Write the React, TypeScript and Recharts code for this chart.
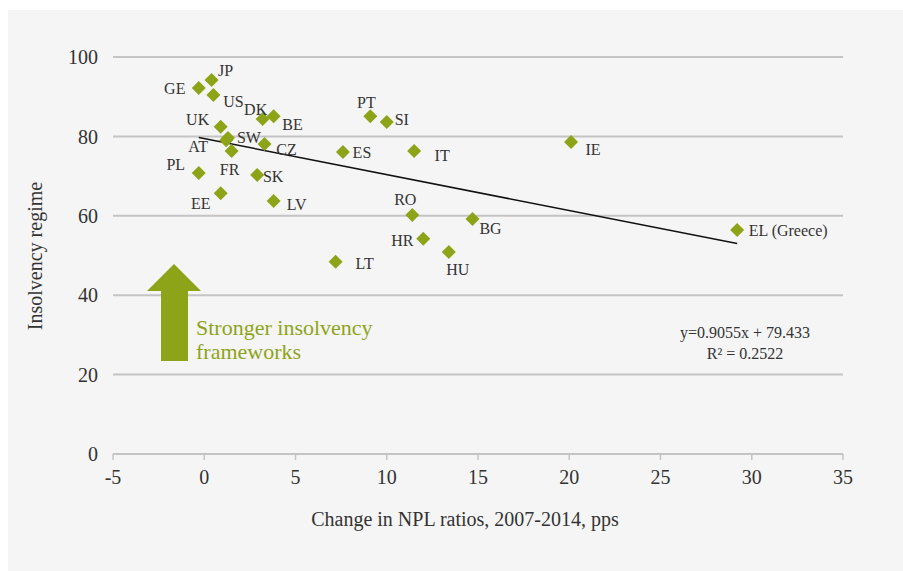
import { ScatterChart, Scatter, XAxis, YAxis, CartesianGrid, ReferenceLine } from "recharts";

// country codes and values
const countries = ["JP", "GE", "US", "DK", "BE", "UK", "SW", "AT", "FR", "CZ", "PL", "SK", "EE", "LV", "ES", "PT", "SI", "IT", "IE", "RO", "BG", "HR", "HU", "LT", "EL (Greece)"];
const nplChange = [0.4, -0.3, 0.5, 3.2, 3.8, 0.9, 1.3, 1.2, 1.5, 3.3, -0.3, 2.9, 0.9, 3.8, 7.6, 9.1, 10.0, 11.5, 20.1, 11.4, 14.7, 12.0, 13.4, 7.2, 29.2];
const insolvency = [94.2, 92.2, 90.4, 84.4, 85.1, 82.4, 79.6, 79.0, 76.3, 78.1, 70.8, 70.3, 65.7, 63.7, 76.1, 85.1, 83.6, 76.3, 78.6, 60.2, 59.2, 54.2, 50.9, 48.4, 56.4];

const xTicks = [-5, 0, 5, 10, 15, 20, 25, 30, 35];
const yTicks = [0, 20, 40, 60, 80, 100];

// linear trend end points
const trend = [
  { x: -0.3, y: 79.7 },
  { x: 29.2, y: 53.0 },
];

// label offsets from the marker (pixels)
const labelOffsets: Record<string, [number, number]> = {
  JP: [14, -10], GE: [-24, 1], US: [20, 6], DK: [-7, -9], BE: [19, 8],
  UK: [-23, -7], SW: [21, 0], AT: [-28, 6], FR: [-2, 18], CZ: [22, 6],
  PL: [-23, -8], SK: [16, 2], EE: [-20, 10], LV: [23, 3], ES: [19, 1],
  PT: [-4, -14], SI: [15, -3], IT: [28, 4], IE: [22, 8], RO: [-7, -16],
  BG: [18, 10], HR: [-21, 2], HU: [9, 18], LT: [29, 2], "EL (Greece)": [51, 0],
};

const data = countries.map((c, i) => ({ code: c, x: nplChange[i], y: insolvency[i] }));

const GREEN = "#8da419";
const FONT = "'Liberation Serif', serif";

const Diamond = (props: any) => {
  const { cx, cy, payload } = props;
  const s = 7;
  const off = labelOffsets[payload.code] || [0, 0];
  return (
    <g>
      <polygon
        points={`${cx},${cy - s} ${cx + s},${cy} ${cx},${cy + s} ${cx - s},${cy}`}
        fill={GREEN}
      />
      <text
        x={cx + off[0]}
        y={cy + off[1]}
        textAnchor="middle"
        dominantBaseline="central"
        fontSize={16}
        fontFamily={FONT}
        fill="#333"
      >
        {payload.code}
      </text>
    </g>
  );
};

export default function App() {
  return (
    <div style={{ position: "absolute", left: 8, top: 10, width: 895, height: 561, background: "#f5f5f5" }}>
      <ScatterChart width={895} height={561} margin={{ top: 47, right: 60, bottom: 77, left: 45 }}>
        <CartesianGrid vertical={false} stroke="#c4c4c4" strokeWidth={2} />
        <XAxis
          type="number"
          dataKey="x"
          domain={[-5, 35]}
          ticks={xTicks}
          height={40}
          axisLine={{ stroke: "#c4c4c4", strokeWidth: 2 }}
          tickLine={{ stroke: "#c4c4c4", strokeWidth: 1.5 }}
          tickSize={6}
          tickMargin={10}
          tick={{ fill: "#333", fontSize: 20, fontFamily: FONT }}
        />
        <YAxis
          type="number"
          dataKey="y"
          domain={[0, 100]}
          ticks={yTicks}
          width={60}
          axisLine={false}
          tickLine={false}
          tickSize={0}
          tickMargin={15}
          tick={{ fill: "#333", fontSize: 20, fontFamily: FONT }}
        />
        <ReferenceLine segment={trend} stroke="#111" strokeWidth={1.5} />
        <Scatter data={data} shape={Diamond} isAnimationActive={false} />
      </ScatterChart>
      <svg width={895} height={561} style={{ position: "absolute", left: 0, top: 0, pointerEvents: "none" }}>
        <text x={27} y={246} transform="rotate(-90 27 246)" textAnchor="middle" dominantBaseline="central" fontSize={20} fontFamily={FONT} fill="#333">
          Insolvency regime
        </text>
        <text x={457} y={509} textAnchor="middle" dominantBaseline="central" fontSize={20} fontFamily={FONT} fill="#333">
          Change in NPL ratios, 2007-2014, pps
        </text>
        <polygon points="166,254 193,281 180,281 180,351 153,351 153,281 139,281" fill={GREEN} />
        <text x={188} y={325} fontSize={22} fontFamily={FONT} fill={GREEN}>Stronger insolvency</text>
        <text x={188} y={349} fontSize={22} fontFamily={FONT} fill={GREEN}>frameworks</text>
        <text x={737} y={328} textAnchor="middle" fontSize={16} fontFamily={FONT} fill="#333">y=0.9055x + 79.433</text>
        <text x={737} y={349} textAnchor="middle" fontSize={16} fontFamily={FONT} fill="#333">R² = 0.2522</text>
      </svg>
    </div>
  );
}
